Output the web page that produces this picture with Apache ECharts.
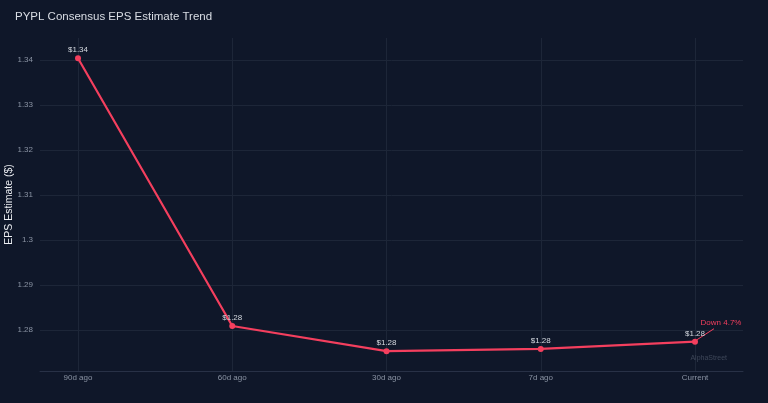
<!DOCTYPE html>
<html>
<head>
<meta charset="utf-8">
<script src="https://cdn.jsdelivr.net/npm/echarts@6/dist/echarts.min.js"></script>
<style>
  html, body { margin: 0; padding: 0; background: #0f1729; }
  #main { width: 768px; height: 403px; }
</style>
</head>
<body>
<div id="main"></div>
<script>
const categories = ['90d ago', '60d ago', '30d ago', '7d ago', 'Current']
const epsValues = [1.3404, 1.2809, 1.2753, 1.2758, 1.2774]
const changeLabel = 'Down 4.7%'

const yMin = 1.27089
const yMax = 1.3449
const red = '#f43f5e'
const gridColor = '#1d2638'
const tickText = '#8a93a3'
const font = 'Liberation Sans, Arial, sans-serif'

const main = document.getElementById('main')
const myChart = echarts.init(main, null, { renderer: 'canvas' })

myChart.setOption({
  backgroundColor: '#0f1729',
  textStyle: { fontFamily: font },
  title: {
    text: 'PYPL Consensus EPS Estimate Trend',
    left: 10,
    top: 6,
    textStyle: { color: '#d9dde4', fontSize: 11.5, fontWeight: 'normal', fontFamily: font }
  },
  grid: [
    // plot frame: y gridlines and bottom line
    { left: 40, right: 25, top: 38, bottom: 32, outerBoundsMode: 'none' },
    // series area, categories sit on its edges
    { left: 78, right: 73, top: 38, bottom: 32, outerBoundsMode: 'none' }
  ],
  xAxis: [
    {
      gridIndex: 0,
      type: 'value',
      min: 0,
      max: 1,
      axisLine: { show: true, lineStyle: { color: '#283146', width: 1 } },
      axisTick: { show: false },
      axisLabel: { show: false },
      splitLine: { show: false }
    },
    {
      gridIndex: 1,
      type: 'category',
      data: categories,
      boundaryGap: false,
      axisLine: { show: false },
      axisTick: { show: false },
      axisLabel: { color: tickText, fontSize: 8, margin: 3, fontFamily: font },
      splitLine: { show: true, lineStyle: { color: gridColor, width: 1 } }
    }
  ],
  yAxis: [
    {
      gridIndex: 0,
      type: 'value',
      min: yMin,
      max: yMax,
      name: 'EPS Estimate ($)',
      nameLocation: 'middle',
      nameGap: 25,
      nameMoveOverlap: false,
      nameTextStyle: { color: '#eceef2', fontSize: 10.5, fontFamily: font },
      axisLine: { show: false },
      axisTick: { show: false },
      axisLabel: {
        color: tickText, fontSize: 8, margin: 7, fontFamily: font,
        showMinLabel: false, showMaxLabel: false
      },
      splitLine: {
        show: true, showMinLine: false, showMaxLine: false,
        lineStyle: { color: gridColor, width: 1 }
      }
    },
    {
      gridIndex: 1,
      type: 'value',
      min: yMin,
      max: yMax,
      show: false,
      splitLine: { show: false }
    }
  ],
  series: [{
    name: 'EPS',
    type: 'line',
    xAxisIndex: 1,
    yAxisIndex: 1,
    data: epsValues,
    symbol: 'circle',
    symbolSize: 6,
    lineStyle: { color: red, width: 2.2 },
    itemStyle: { color: red },
    label: {
      show: true,
      position: 'top',
      distance: 1,
      color: '#d4d8df',
      fontSize: 8,
      fontFamily: font,
      formatter: p => '$' + p.value.toFixed(2)
    }
  }]
})

// annotation arrow and text off the last point
const lastIdx = epsValues.length - 1
const p = myChart.convertToPixel({ seriesIndex: 0 }, [lastIdx, epsValues[lastIdx]])
myChart.setOption({
  graphic: [
    {
      type: 'line',
      shape: { x1: p[0] + 2, y1: p[1] - 2, x2: p[0] + 19, y2: p[1] - 13 },
      style: { stroke: red, lineWidth: 1 }
    },
    {
      type: 'text',
      x: p[0] + 26,
      y: p[1] - 19,
      style: { text: changeLabel, fill: red, fontSize: 8, fontFamily: font, align: 'center', verticalAlign: 'middle' }
    },
    {
      type: 'text',
      right: 41,
      top: 355,
      style: { text: 'AlphaStreet', fill: '#3e4759', fontSize: 7, fontFamily: font }
    }
  ]
})
</script>
</body>
</html>
